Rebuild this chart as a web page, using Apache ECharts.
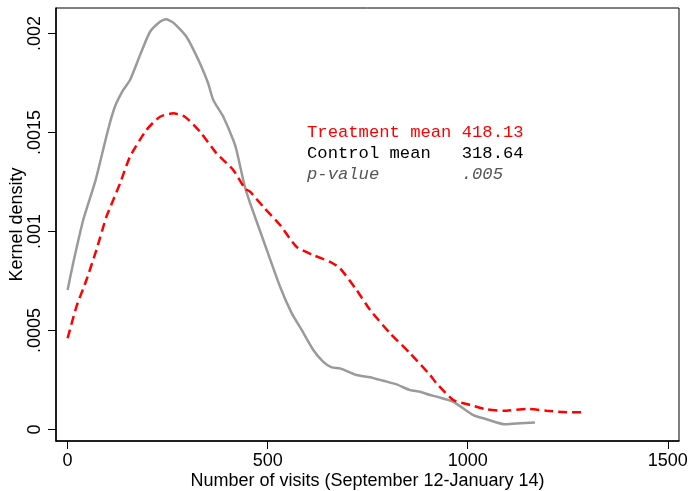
<!DOCTYPE html>
<html>
<head>
<meta charset="utf-8">
<script src="https://cdn.jsdelivr.net/npm/echarts@6/dist/echarts.min.js"></script>
<style>
  html, body { margin: 0; padding: 0; background: #fff; }
  #chart { width: 690px; height: 491px; }
</style>
</head>
<body>
<div id="chart"></div>
<script>
  // kernel density, control group (grey solid)
  var controlVisits = [0, 14, 39, 70, 101, 118, 139, 156, 181, 206, 231, 246, 264, 297, 331, 351, 364, 389, 414, 422, 443, 456, 489, 531, 560, 585, 614, 639, 660, 681, 722, 756, 789, 822, 856, 881, 906, 922, 964, 1014, 1047, 1093, 1122, 1168]
  var controlDensity = [0.000705, 0.000841, 0.001058, 0.00126, 0.001513, 0.001629, 0.001715, 0.001765, 0.001891, 0.002009, 0.00206, 0.002072, 0.002055, 0.001984, 0.001849, 0.00175, 0.001664, 0.00158, 0.001462, 0.001412, 0.001226, 0.001144, 0.000957, 0.000721, 0.000588, 0.000503, 0.000402, 0.000342, 0.000314, 0.000309, 0.000275, 0.000264, 0.000246, 0.000228, 0.000199, 0.000191, 0.000174, 0.000166, 0.00014, 0.000073, 0.000052, 0.000026, 0.000031, 0.000036]

  // kernel density, treatment group (red dashed)
  var treatVisits = [0, 22, 47, 72, 97, 114, 131, 156, 197, 231, 264, 293, 331, 372, 414, 443, 456, 489, 531, 572, 614, 656, 681, 722, 756, 806, 856, 906, 922, 964, 1006, 1047, 1089, 1147, 1197, 1239, 1285]
  var treatDensity = [0.000461, 0.00062, 0.000755, 0.000907, 0.001075, 0.001159, 0.001243, 0.001378, 0.001513, 0.00158, 0.001597, 0.00158, 0.001504, 0.001395, 0.001311, 0.001218, 0.001201, 0.001125, 0.001033, 0.000923, 0.000881, 0.000847, 0.000814, 0.000705, 0.000604, 0.000486, 0.000385, 0.000275, 0.000233, 0.000149, 0.000124, 0.000102, 0.000095, 0.000104, 0.000095, 0.000088, 0.000087]

  var xTicks = [0, 500, 1000, 1500]
  var yTicks = [0, 0.0005, 0.001, 0.0015, 0.002]
  var noteLines = ['Treatment mean 418.13', 'Control mean   318.64', 'p-value        .005']

  function pairs (xs, ys) {
    var out = []
    for (var i = 0; i < xs.length; i++) {
      out.push([xs[i], ys[i]])
    }
    return out
  }

  var font = 'Liberation Sans, Arial, Helvetica, sans-serif'
  var mono = 'Liberation Mono, Courier New, monospace'

  var myChart = echarts.init(document.getElementById('chart'), null, { renderer: 'canvas' })
  var option = {
    animation: false,
    backgroundColor: '#fff',
    grid: {
      left: 56,
      right: 11,
      top: 8,
      bottom: 50,
      show: true,
      borderColor: '#000',
      borderWidth: 1,
      containLabel: false,
      outerBoundsMode: 'none'
    },
    xAxis: {
      type: 'value',
      min: -29,
      max: 1528,
      name: 'Number of visits (September 12-January 14)',
      nameLocation: 'middle',
      nameGap: 31,
      nameMoveOverlap: false,
      nameTextStyle: { color: '#000', fontSize: 18, fontFamily: font },
      axisLine: { show: true, onZero: false, lineStyle: { color: '#000', width: 1.5 } },
      axisTick: { show: true, inside: false, length: 8, customValues: xTicks, lineStyle: { color: '#000', width: 1 } },
      axisLabel: {
        customValues: xTicks,
        margin: 11,
        color: '#000',
        fontSize: 18,
        fontFamily: font,
        formatter: function (v) { return String(v) }
      },
      splitLine: { show: false }
    },
    yAxis: {
      type: 'value',
      min: -0.000058,
      max: 0.002129,
      name: 'Kernel density',
      nameLocation: 'middle',
      nameGap: 30,
      nameMoveOverlap: false,
      nameTextStyle: { color: '#000', fontSize: 18, fontFamily: font },
      axisLine: { show: true, onZero: false, lineStyle: { color: '#000', width: 1.5 } },
      axisTick: { show: true, inside: false, length: 8, customValues: yTicks, lineStyle: { color: '#000', width: 1 } },
      axisLabel: {
        customValues: yTicks,
        rotate: 90,
        margin: 12,
        color: '#000',
        fontSize: 18,
        fontFamily: font,
        formatter: function (v) {
          if (v === 0) return '0'
          return String(v).replace(/^0/, '')
        }
      },
      splitLine: { show: false }
    },
    graphic: [
      { type: 'text', left: 307, top: 124, style: { text: noteLines[0], fill: '#ff0000', font: '17.2px ' + mono } },
      { type: 'text', left: 307, top: 145, style: { text: noteLines[1], fill: '#000', font: '17.2px ' + mono } },
      { type: 'text', left: 307, top: 166, style: { text: noteLines[2], fill: '#555', font: 'italic 17.2px ' + mono } }
    ],
    series: [
      {
        name: 'Control',
        type: 'line',
        data: pairs(controlVisits, controlDensity),
        symbol: 'none',
        smooth: 0.2,
        lineStyle: { color: '#9a9a9a', width: 2.5 },
        z: 2
      },
      {
        name: 'Treatment',
        type: 'line',
        data: pairs(treatVisits, treatDensity),
        symbol: 'none',
        smooth: 0.2,
        lineStyle: { color: '#ff0000', width: 2.5, type: [9, 5] },
        z: 3
      }
    ]
  }
  myChart.setOption(option)
</script>
</body>
</html>
